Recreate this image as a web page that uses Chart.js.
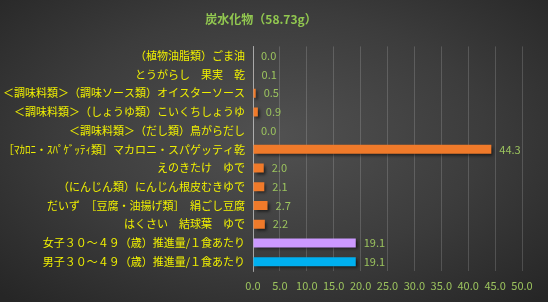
<!DOCTYPE html>
<html>
<head>
<meta charset="utf-8">
<script src="https://cdn.jsdelivr.net/npm/chart.js@4"></script>
<style>
  html, body { margin: 0; padding: 0; }
  body {
    width: 548px; height: 302px; overflow: hidden;
    background: radial-gradient(ellipse 70% 75% at 50% 45%, #515151 0%, #3c3c3c 55%, #262626 100%);
  }
  #wrap { width: 548px; height: 302px; }
</style>
</head>
<body>
<div id="wrap"><canvas id="carbChart"></canvas></div>
<script>
  // 食品名 (上から順)
  const foods = [
    '（植物油脂類）ごま油',
    'とうがらし　果実　乾',
    '＜調味料類＞（調味ソース類）オイスターソース',
    '＜調味料類＞（しょうゆ類）こいくちしょうゆ',
    '＜調味料類＞（だし類）鳥がらだし',
    '［ﾏｶﾛﾆ・ｽﾊﾟｹﾞｯﾃｨ類］マカロニ・スパゲッティ乾',
    'えのきたけ　ゆで',
    '（にんじん類）にんじん根皮むきゆで',
    'だいず　［豆腐・油揚げ類］　絹ごし豆腐',
    'はくさい　結球葉　ゆで',
    '女子３０～４９（歳）推進量/１食あたり',
    '男子３０～４９（歳）推進量/１食あたり'
  ];
  const carbs = [0.0, 0.1, 0.5, 0.9, 0.0, 44.3, 2.0, 2.1, 2.7, 2.2, 19.1, 19.1];
  const xTicks = [0, 5, 10, 15, 20, 25, 30, 35, 40, 45, 50];

  const barColors = carbs.map((v, i) => i === 10 ? '#cc99ff' : (i === 11 ? '#00b0f0' : '#f07a2a'));
  const jpFont = '"Noto Sans CJK JP", "Noto Sans", sans-serif';

  // 棒の影
  const shadowPlugin = {
    id: 'barShadow',
    beforeDatasetsDraw(chart) {
      const c = chart.ctx;
      c.save();
      c.shadowColor = 'rgba(0,0,0,0.6)';
      c.shadowBlur = 3;
      c.shadowOffsetX = 2;
      c.shadowOffsetY = 2;
    },
    afterDatasetsDraw(chart) {
      chart.ctx.restore();
    }
  };

  // 値ラベル
  const valueLabels = {
    id: 'valueLabels',
    afterDatasetsDraw(chart) {
      const c = chart.ctx;
      const meta = chart.getDatasetMeta(0);
      c.save();
      c.font = '11px ' + jpFont;
      c.fillStyle = '#9cc45e';
      c.textAlign = 'left';
      c.textBaseline = 'middle';
      meta.data.forEach((bar, i) => {
        c.fillText(carbs[i].toFixed(1), bar.x + 8, bar.y);
      });
      c.restore();
    }
  };

  new Chart(document.getElementById('carbChart'), {
    type: 'bar',
    data: {
      labels: foods,
      datasets: [{
        data: carbs,
        backgroundColor: barColors,
        borderWidth: 0,
        barPercentage: 0.48,
        categoryPercentage: 1
      }]
    },
    options: {
      indexAxis: 'y',
      responsive: true,
      maintainAspectRatio: false,
      animation: false,
      layout: { padding: { top: 0, right: 26, bottom: 0, left: 0 } },
      plugins: {
        legend: { display: false },
        tooltip: { enabled: false },
        title: {
          display: true,
          text: '炭水化物（58.73g）',
          color: '#92c850',
          font: { family: jpFont, size: 12, weight: 'bold' },
          padding: { top: 12, bottom: 20 }
        }
      },
      scales: {
        x: {
          min: 0,
          max: 50,
          afterBuildTicks(scale) {
            scale.ticks = xTicks.map(v => ({ value: v }));
          },
          afterFit(scale) { scale.height = 31; },
          grid: {
            color: 'rgba(255,255,255,0.16)',
            drawTicks: false
          },
          border: { display: false },
          ticks: {
            color: '#9cc45e',
            font: { family: jpFont, size: 11 },
            padding: 8,
            maxRotation: 0,
            minRotation: 0,
            autoSkip: false,
            callback: v => Number(v).toFixed(1)
          }
        },
        y: {
          afterFit(scale) { scale.width = 253; },
          grid: { display: false, drawTicks: false },
          border: { display: true, color: 'rgba(255,255,255,0.45)', width: 1 },
          ticks: {
            color: '#f0f000',
            font: { family: jpFont, size: 11 },
            padding: 8,
            autoSkip: false
          }
        }
      }
    },
    plugins: [shadowPlugin, valueLabels]
  });
</script>
</body>
</html>
